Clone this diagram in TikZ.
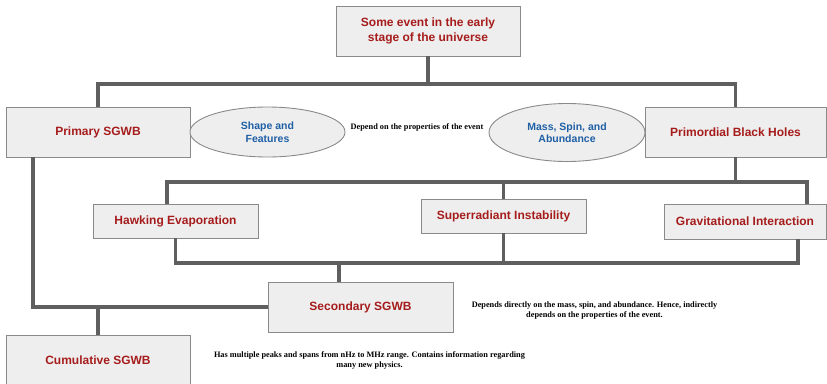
\documentclass[tikz,border=0pt]{standalone}
\usepackage{fontspec}
\setmainfont{Liberation Serif}
\setsansfont{Liberation Sans}
\usetikzlibrary{shapes.geometric}

\definecolor{boxfill}{HTML}{EEEEEE}
\definecolor{boxline}{HTML}{8A8A8A}
\definecolor{linkgray}{HTML}{5F5F5F}
\definecolor{titlered}{HTML}{A61C1C}
\definecolor{ovalblue}{HTML}{1F5FA5}

\tikzset{
  box/.style={draw=boxline, fill=boxfill, line width=0.9pt, inner sep=0pt,
    text=titlered, align=center, font=\sffamily\bfseries\fontsize{12}{14.5}\selectfont},
  oval/.style={ellipse, draw=boxline, fill=boxfill, line width=0.9pt, inner sep=0pt,
    text=ovalblue, align=center, font=\sffamily\bfseries\fontsize{10.5}{12.5}\selectfont},
  note/.style={align=center, font=\rmfamily\bfseries\fontsize{8.3}{10.7}\selectfont},
  link/.style={draw=linkgray, line width=3.2pt}
}

\begin{document}
\begin{tikzpicture}[x=1pt,y=-1pt]
\clip (0,0) rectangle (827,383);

% the event and what it makes
\node[box, minimum width=184, minimum height=50] (event) at (428,31) {Some event in the early\\stage of the universe};
\node[box, minimum width=184, minimum height=50] (prim) at (98,132) {Primary SGWB};
\node[box, minimum width=181, minimum height=50] (pbh) at (735.5,132) {Primordial Black Holes};
\node[oval, minimum width=155, minimum height=50] (shape) at (267.5,132) {Shape and\\Features};
\node[oval, minimum width=156, minimum height=58] (mass) at (567,132.5) {Mass, Spin, and\\Abundance};
\node[note] (dep) at (417,127) {Depend on the properties of the event};

% black hole channels
\node[box, minimum width=165, minimum height=34] (hawk) at (175.5,221) {Hawking Evaporation};
\node[box, minimum width=165, minimum height=34] (super) at (503.5,216) {Superradiant Instability};
\node[box, minimum width=162, minimum height=35] (grav) at (745,221.5) {Gravitational Interaction};

% backgrounds
\node[box, minimum width=185, minimum height=50] (sec) at (360.5,307) {Secondary SGWB};
\node[note] (secnote) at (594.5,310.5) {Depends directly on the mass, spin, and abundance. Hence, indirectly\\depends on the properties of the event.};
\node[box, minimum width=184, minimum height=50] (cum) at (98,360) {Cumulative SGWB};
\node[note] (cumnote) at (369.5,360.5) {Has multiple peaks and spans from nHz to MHz range. Contains information regarding\\many new physics.};

\coordinate (top) at (428,84);
\coordinate (midL) at (167,182);
\coordinate (midR) at (807,182);
\coordinate (lowR) at (798,263);
\coordinate (secin) at (339,263);
\coordinate (side) at (33,307);

\draw[link] (event.south) -- (top);
\draw[link] (prim.north) |- (top) -| (pbh.north);

\draw[link] (pbh.south) -- (pbh.south |- midL);
\draw[link] (hawk.north -| midL) -- (midL) -- (midR) -- (grav.north -| midR);
\draw[link] (super.north) -- (super.north |- midL);

\draw[link] (hawk.south) |- (lowR) -- (grav.south -| lowR);
\draw[link] (super.south) -- (super.south |- lowR);
\draw[link] (secin) -- (sec.north -| secin);

\draw[link] (prim.south -| side) -- (side) -- (sec.west);
\draw[link] (cum.north) -- (cum.north |- side);
\end{tikzpicture}
\end{document}
